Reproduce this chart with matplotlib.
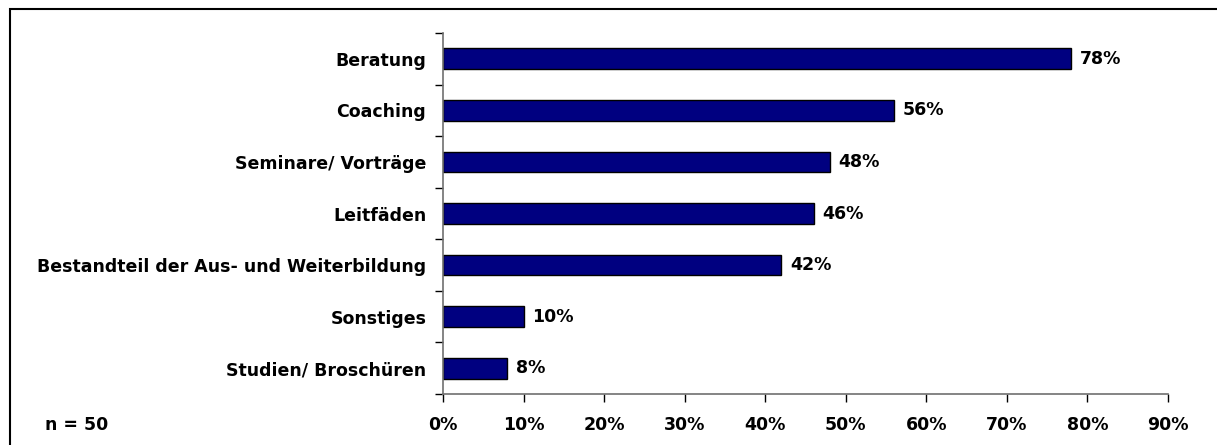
import matplotlib
matplotlib.use("Agg")
import matplotlib.pyplot as plt
from matplotlib.patches import Rectangle
from matplotlib.ticker import FuncFormatter, MultipleLocator

# Angebote zur Unterstützung, Anteil der Nennungen (Mehrfachnennung)
categories = ["Beratung", "Coaching", "Seminare/ Vorträge", "Leitfäden",
              "Bestandteil der Aus- und Weiterbildung", "Sonstiges",
              "Studien/ Broschüren"]
shares = [78, 56, 48, 46, 42, 10, 8]
n_total = 50

plt.rcParams["font.family"] = ["DejaVu Sans"]
plt.rcParams["font.weight"] = "bold"
FS = 12.5

fig = plt.figure(figsize=(12.17, 4.45), dpi=100)
ax = fig.add_axes([443 / 1217, 1 - 394 / 445, (1168 - 443) / 1217, (394 - 33) / 445])

ypos = list(range(len(categories)))
ax.barh(ypos, shares, height=0.4, color="#000080", edgecolor="black", linewidth=1.0)
for y, v in zip(ypos, shares):
    ax.text(v + 1.1, y, f"{v}%", va="center", ha="left", fontsize=FS,
            fontweight="bold", color="black")

ax.set_ylim(len(categories) - 0.5, -0.5)
ax.set_xlim(0, 90)
ax.set_yticks(ypos)
ax.set_yticklabels(categories, fontsize=FS, fontweight="bold")
ax.set_yticks([i - 0.5 for i in range(len(categories) + 1)], minor=True)
ax.tick_params(axis="y", which="major", length=0, pad=12)
ax.tick_params(axis="y", which="minor", length=6, width=1, color="black")
ax.xaxis.set_major_locator(MultipleLocator(10))
ax.xaxis.set_major_formatter(FuncFormatter(lambda x, _: f"{x:.0f}%"))
ax.tick_params(axis="x", length=6, width=1, color="black", pad=10, labelsize=FS)
for lab in ax.get_xticklabels():
    lab.set_fontweight("bold")

for side in ("top", "right"):
    ax.spines[side].set_visible(False)
for side in ("left", "bottom"):
    ax.spines[side].set_color("#707070")
    ax.spines[side].set_linewidth(1.2)

fig.text(45 / 1217, 1 - 425 / 445, f"n = {n_total}", fontsize=FS,
         fontweight="bold", va="center", ha="left")

# Rahmen um das Diagramm
fig.patches.append(Rectangle((10 / 1217, -0.05), 1.05, 1 - 9 / 445 + 0.05,
                             transform=fig.transFigure, fill=False,
                             edgecolor="black", linewidth=1.5))

fig.savefig("out.png", dpi=100)
